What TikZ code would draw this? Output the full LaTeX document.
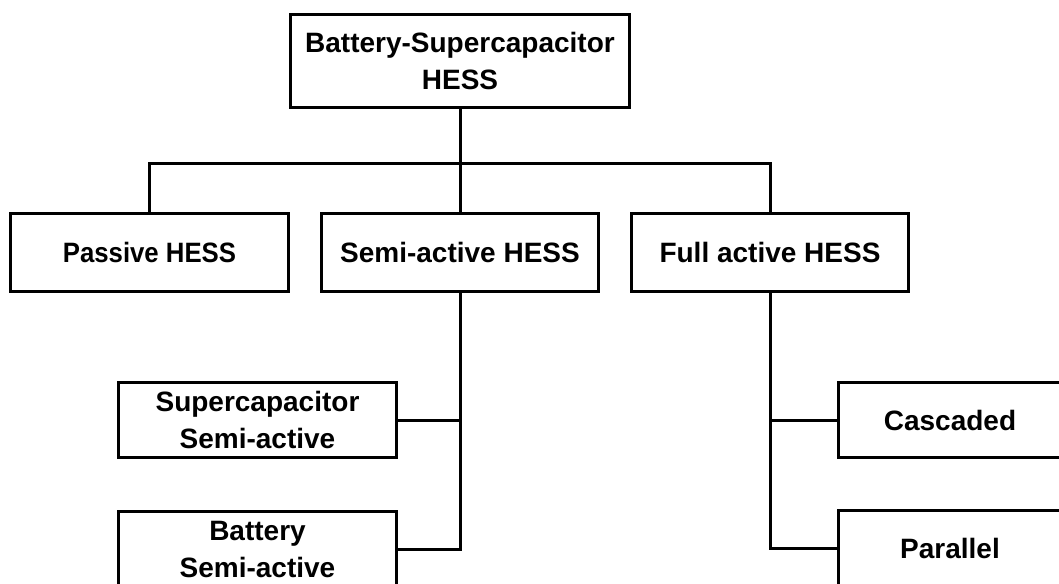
\documentclass[tikz,border=0pt]{standalone}
\usepackage{fontspec}
\setmainfont{Liberation Sans}
\begin{document}
\begin{tikzpicture}[x=1pt,y=-1pt,
  line width=3pt, line join=miter,
  box/.style={draw=black, fill=white, inner sep=0pt, align=center,
    font=\bfseries\fontsize{28}{37}\selectfont},
  link/.style={draw=black, line width=3pt}]
\useasboundingbox (0,0) rectangle (1059,583);
\clip (0,0) rectangle (1059,583);
\fill[white] (0,0) rectangle (1059,583);
% nodes
\node[box, minimum width=339pt, minimum height=93pt] (top) at (460,61) {Battery-Supercapacitor\\HESS};
\node[box, minimum width=278pt, minimum height=78pt] (passive) at (149.5,252.5) {\scalebox{0.92}[1]{Passive HESS}};
\node[box, minimum width=277pt, minimum height=78pt] (semi) at (460,252.5) {Semi-active HESS};
\node[box, minimum width=277pt, minimum height=78pt] (full) at (770,252.5) {Full active HESS};
\node[box, minimum width=278pt, minimum height=75pt] (supercap) at (257.5,420) {Supercapacitor\\Semi-active};
\node[box, minimum width=278pt, minimum height=75pt] (battery) at (257.5,549) {Battery\\Semi-active};
\node[box, minimum width=223pt, minimum height=75pt] (cascaded) at (950,420) {Cascaded};
\node[box, minimum width=223pt, minimum height=75pt] (parallel) at (950,548) {Parallel};
% connectors
\coordinate (bus) at (460,163);
\draw[link] (top.south) -- (semi.north);
\draw[link] (passive.north) -- (passive.north |- bus) -- (full.north |- bus) -- (full.north);
\draw[link] (semi.south) -- (semi.south |- battery.east) -- (battery.east);
\draw[link] (supercap.east) -- (supercap.east -| semi.south);
\draw[link] (full.south) -- (full.south |- parallel.west) -- (parallel.west);
\draw[link] (cascaded.west) -- (cascaded.west -| full.south);
\end{tikzpicture}
\end{document}
